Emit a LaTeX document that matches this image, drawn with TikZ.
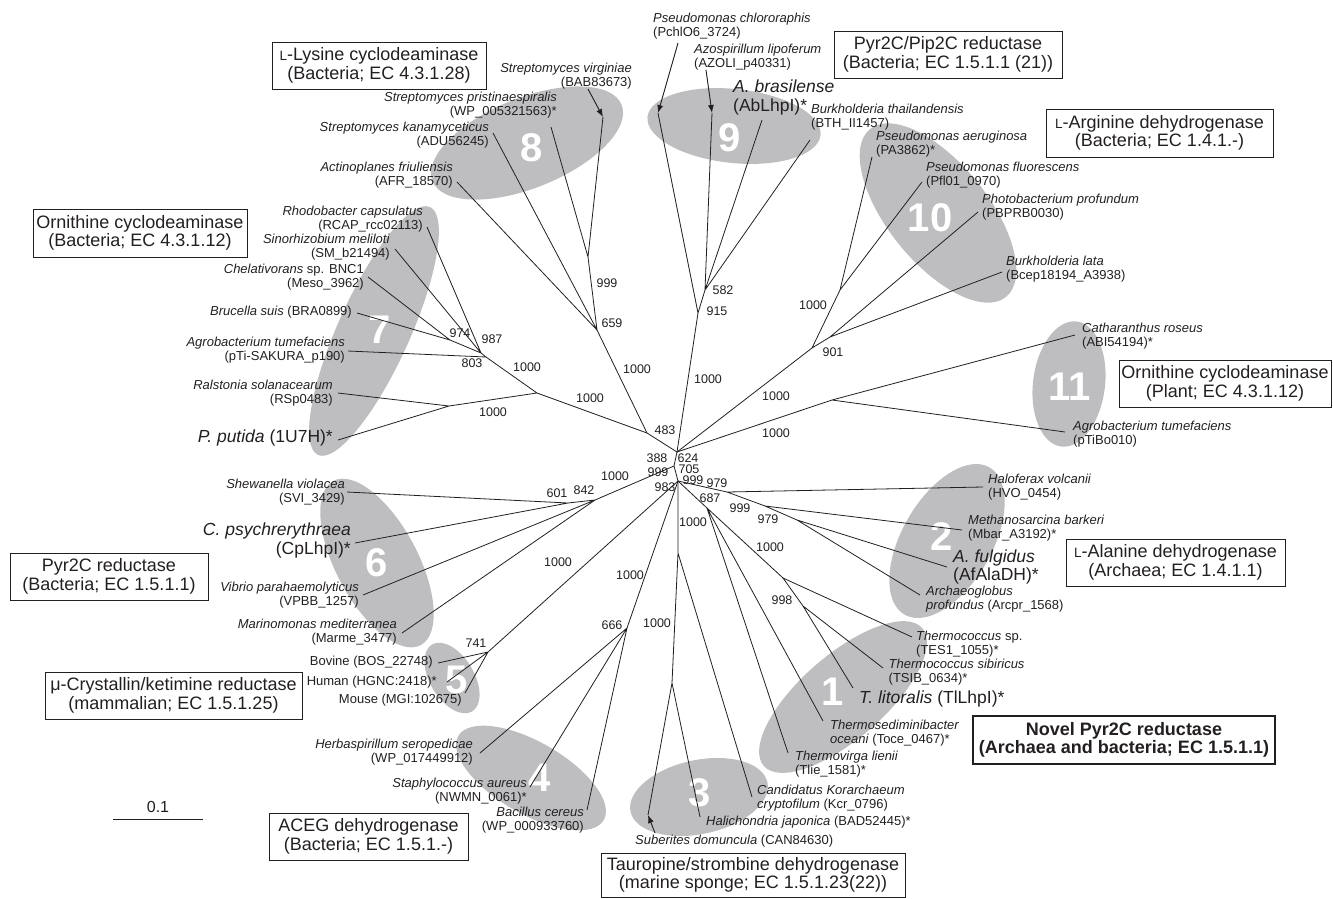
\documentclass[tikz,border=0pt]{standalone}
\usepackage{fontspec}
\setmainfont{Liberation Sans}
\usetikzlibrary{arrows.meta}
\definecolor{cladegray}{RGB}{190,190,193}
\definecolor{ink}{RGB}{35,31,32}
\tikzset{
  branch/.style={line width=0.8pt, draw=ink},
  pointer/.style={line width=0.9pt, draw=ink, fill=ink, -{Latex[length=8pt,width=6pt]}},
  taxon/.style={inner sep=0pt, text=ink, font=\fontsize{13}{14}\selectfont},
  taxonbig/.style={inner sep=0pt, text=ink, font=\fontsize{17.5}{18.5}\selectfont},
  boot/.style={inner sep=0pt, text=ink, font=\fontsize{12.5}{13}\selectfont},
  cladeno/.style={inner sep=0pt, text=white, font=\fontsize{40}{40}\selectfont\bfseries},
  enzbox/.style={draw=ink, line width=0.9pt, align=center, text=ink, inner sep=0pt,
    font=\fontsize{18}{18.5}\selectfont},
}
\newcommand{\sml}{\fontsize{13.5}{13.5}\selectfont L}

\begin{document}
\begin{tikzpicture}[x=1pt,y=-1pt]
    \useasboundingbox (0,0) rectangle (1333,898);

    \fill[cladegray, rotate around={65.7:(374,331)}] (374,331) ellipse [x radius=136, y radius=36];
    \fill[cladegray, rotate around={-62:(377,563)}] (377,563) ellipse [x radius=93, y radius=41];
    \fill[cladegray, rotate around={-59:(452,678)}] (452,678) ellipse [x radius=39, y radius=22];
    \fill[cladegray, rotate around={-30:(531,778)}] (531,778) ellipse [x radius=84, y radius=36];
    \fill[cladegray, rotate around={12:(699,797)}] (699,797) ellipse [x radius=70, y radius=37];
    \fill[cladegray, rotate around={41:(843,697)}] (843,697) ellipse [x radius=105, y radius=42];
    \fill[cladegray, rotate around={60:(947,541)}] (947,541) ellipse [x radius=85, y radius=45];
    \fill[cladegray, rotate around={-7:(1069,384)}] (1069,384) ellipse [x radius=36, y radius=63];
    \fill[cladegray, rotate around={-51:(938,213)}] (938,213) ellipse [x radius=108, y radius=50];
    \fill[cladegray, rotate around={-6:(734,126)}] (734,126) ellipse [x radius=87, y radius=37];
    \fill[cladegray, rotate around={22:(527,143)}] (527,143) ellipse [x radius=102, y radius=45];

    \node[cladeno] (k1) at (833,692) {1};
    \node[cladeno] (k2) at (942,537) {2};
    \node[cladeno] (k3) at (700,793) {3};
    \node[cladeno] (k4) at (540,778) {4};
    \node[cladeno] (k5) at (457,680) {5};
    \node[cladeno] (k6) at (377,563) {6};
    \node[cladeno] (k7) at (380,330) {7};
    \node[cladeno] (k8) at (532,148) {8};
    \node[cladeno] (k9) at (730,138) {9};
    \node[cladeno] (k10) at (930,218) {10};
    \node[cladeno] (k11) at (1070,387) {11};

    \coordinate (cA) at (677,452);
    \coordinate (cB) at (674,466);
    \coordinate (cC) at (678,481);
    \coordinate (n483) at (647,433);
    \coordinate (n659) at (597,330);
    \coordinate (n999) at (588,257);
    \coordinate (n7) at (537,393);
    \coordinate (n803) at (486,357);
    \coordinate (n987) at (481,353);
    \coordinate (nCB) at (450,340);
    \coordinate (nPR) at (449,406);
    \coordinate (n915) at (698,313);
    \coordinate (n582) at (705,290);
    \coordinate (n901) at (812,348);
    \coordinate (nPP) at (840,290);
    \coordinate (nLP) at (830,337);
    \coordinate (n11) at (832,400);
    \coordinate (n842) at (595,500);
    \coordinate (n601) at (568,503);
    \coordinate (n741) at (488,652);
    \coordinate (n666) at (627,628);
    \coordinate (n3K) at (678,553);
    \coordinate (n3) at (672,683);
    \coordinate (n687) at (707,508);
    \coordinate (t1) at (783,578);
    \coordinate (n998) at (803,606);
    \coordinate (n2a) at (727,492);
    \coordinate (n2b) at (765,506);
    \coordinate (n2c) at (797,520);

    \coordinate (tVir) at (603,117);
    \coordinate (tPri) at (551,127);
    \coordinate (tKan) at (493,133);
    \coordinate (tAct) at (457,182);
    \coordinate (tRca) at (427,227);
    \coordinate (tSin) at (395,249);
    \coordinate (tChe) at (368,277);
    \coordinate (tBru) at (357,313);
    \coordinate (tAgr) at (348,351);
    \coordinate (tRal) at (338,393);
    \coordinate (tPpu) at (338,440);
    \coordinate (tShe) at (347,492);
    \coordinate (tCps) at (355,543);
    \coordinate (tVib) at (363,595);
    \coordinate (tMar) at (402,633);
    \coordinate (tBov) at (438,663);
    \coordinate (tHum) at (447,682);
    \coordinate (tMou) at (465,693);
    \coordinate (tHer) at (480,753);
    \coordinate (tSta) at (530,787);
    \coordinate (tBac) at (587,810);
    \coordinate (tSub) at (648,815);
    \coordinate (tHal) at (700,817);
    \coordinate (tKor) at (752,797);
    \coordinate (tTvi) at (788,753);
    \coordinate (tTse) at (823,721);
    \coordinate (tTli) at (853,688);
    \coordinate (tTsi) at (883,668);
    \coordinate (tTsp) at (912,637);
    \coordinate (tArc) at (920,595);
    \coordinate (tAfu) at (947,567);
    \coordinate (tMba) at (962,530);
    \coordinate (tHvo) at (983,487);
    \coordinate (tAtu) at (1065,432);
    \coordinate (tCro) at (1075,335);
    \coordinate (tBla) at (1002,272);
    \coordinate (tPbp) at (978,212);
    \coordinate (tPfl) at (922,182);
    \coordinate (tPae) at (872,157);
    \coordinate (tBth) at (810,140);
    \coordinate (tAbr) at (762,120);
    \coordinate (tAzo) at (712,113);
    \coordinate (tPch) at (658,113);

    \draw[branch] (n999) -- (tVir) (n999) -- (tPri);
    \draw[branch] (n659) -- (n999) (n659) -- (tKan) (n659) -- (tAct);
    \draw[branch] (nCB) -- (tChe) (nCB) -- (tBru);
    \draw[branch] (n987) -- (tRca) (n987) -- (tSin) (n987) -- (nCB);
    \draw[branch] (n803) -- (n987) (n803) -- (tAgr);
    \draw[branch] (nPR) -- (tRal) (nPR) -- (tPpu);
    \draw[branch] (n7) -- (n803) (n7) -- (nPR) (n7) -- (n483);
    \draw[branch] (n483) -- (n659) (n483) -- (cA);
    \draw[branch] (n582) -- (tAzo) (n582) -- (tAbr) (n582) -- (tBth);
    \draw[branch] (n915) -- (n582) (n915) -- (tPch) (cA) -- (n915);
    \draw[branch] (nPP) -- (tPae) (nPP) -- (tPfl) (nLP) -- (tPbp) (nLP) -- (tBla);
    \draw[branch] (n901) -- (nPP) (n901) -- (nLP) (cA) -- (n901);
    \draw[branch] (n11) -- (tCro) (n11) -- (tAtu) (cA) -- (n11);
    \draw[branch] (cA) -- (cB) -- (cC);
    \draw[branch] (n601) -- (tShe) (n601) -- (tCps);
    \draw[branch] (n842) -- (n601) (n842) -- (tVib) (n842) -- (tMar) (cB) -- (n842);
    \draw[branch] (n741) -- (tBov) (n741) -- (tHum) (n741) -- (tMou) (cC) -- (n741);
    \draw[branch] (n666) -- (tHer) (n666) -- (tSta) (n666) -- (tBac) (cC) -- (n666);
    \draw[branch] (n3) -- (tSub) (n3) -- (tHal) (n3K) -- (n3) (n3K) -- (tKor) (cC) -- (n3K);
    \draw[branch] (n998) -- (tTsi) (n998) -- (tTli) (t1) -- (n998) (t1) -- (tTsp);
    \draw[branch] (n687) -- (t1) (n687) -- (tTse) (n687) -- (tTvi) (cC) -- (n687);
    \draw[branch] (n2c) -- (tAfu) (n2c) -- (tArc) (n2b) -- (n2c) (n2b) -- (tMba);
    \draw[branch] (n2a) -- (n2b) (n2a) -- (tHvo) (cC) -- (n2a);

    \coordinate (aVir) at (588,89);
    \coordinate (aAzo) at (706,70);
    \coordinate (aPch) at (678,43);
    \coordinate (aSub) at (655,833);
    \draw[pointer] (aVir) -- (tVir);
    \draw[pointer] (aAzo) -- (tAzo);
    \draw[pointer] (aPch) -- (tPch);
    \draw[pointer] (aSub) -- (tSub);

    \node[taxon, anchor=east, align=right] (lVir) at (632,75.7) {\textit{Streptomyces virginiae}\\(BAB83673)};
    \node[taxon, anchor=east, align=right] (lPri) at (557,105) {\textit{Streptomyces pristinaespiralis}\\(WP\_005321563)*};
    \node[taxon, anchor=east, align=right] (lKan) at (489,135.5) {\textit{Streptomyces kanamyceticus}\\(ADU56245)};
    \node[taxon, anchor=east, align=right] (lAct) at (453,175.3) {\textit{Actinoplanes friuliensis}\\(AFR\_18570)};
    \node[taxon, anchor=east, align=right] (lRca) at (423,219) {\textit{Rhodobacter capsulatus}\\(RCAP\_rcc02113)};
    \node[taxon, anchor=east, align=right] (lSin) at (390,247) {\textit{Sinorhizobium meliloti}\\(SM\_b21494)};
    \node[taxon, anchor=east, align=right] (lChe) at (364,276.7) {\textit{Chelativorans} sp. BNC1\\(Meso\_3962)};
    \node[taxon, anchor=east] (lBru) at (352,311.7) {\textit{Brucella suis} (BRA0899)};
    \node[taxon, anchor=east, align=right] (lAgr) at (345,349.7) {\textit{Agrobacterium tumefaciens}\\(pTi-SAKURA\_p190)};
    \node[taxon, anchor=east, align=right] (lRal) at (333,393.3) {\textit{Ralstonia solanacearum}\\(RSp0483)};
    \node[taxonbig, anchor=east] (lPpu) at (333,437.7) {\textit{P. putida} (1U7H)*};
    \node[taxon, anchor=east, align=right] (lShe) at (345,492) {\textit{Shewanella violacea}\\(SVI\_3429)};
    \node[taxonbig, anchor=east, align=right] (lCps) at (351,540.5) {\textit{C. psychrerythraea}\\(CpLhpI)*};
    \node[taxon, anchor=east, align=right] (lVib) at (359,594.7) {\textit{Vibrio parahaemolyticus}\\(VPBB\_1257)};
    \node[taxon, anchor=east, align=right] (lMar) at (397,631.7) {\textit{Marinomonas mediterranea}\\(Marme\_3477)};
    \node[taxon, anchor=east] (lBov) at (433,662.3) {Bovine (BOS\_22748)};
    \node[taxon, anchor=east] (lHum) at (437,682.3) {Human (HGNC:2418)*};
    \node[taxon, anchor=east] (lMou) at (462,700) {Mouse (MGI:102675)};
    \node[taxon, anchor=east, align=right] (lHer) at (473,751.7) {\textit{Herbaspirillum seropedicae}\\(WP\_017449912)};
    \node[taxon, anchor=east, align=right] (lSta) at (527,790.8) {\textit{Staphylococcus aureus}\\(NWMN\_0061)*};
    \node[taxon, anchor=east, align=right] (lBac) at (584,819.7) {\textit{Bacillus cereus}\\(WP\_000933760)};
    \node[taxon, anchor=west] (lSub) at (635,840.7) {\textit{Suberites domuncula} (CAN84630)};
    \node[taxon, anchor=west] (lHal) at (706,822.3) {\textit{Halichondria japonica} (BAD52445)*};
    \node[taxon, anchor=west, align=left] (lKor) at (757,798.3) {\textit{Candidatus Korarchaeum}\\\textit{cryptofilum} (Kcr\_0796)};
    \node[taxon, anchor=west, align=left] (lTvi) at (795,764.5) {\textit{Thermovirga lienii}\\(Tlie\_1581)*};
    \node[taxon, anchor=west, align=left] (lTse) at (830,732.7) {\textit{Thermosediminibacter}\\\textit{oceani} (Toce\_0467)*};
    \node[taxonbig, anchor=west] (lTli) at (859,699.3) {\textit{T. litoralis} (TlLhpI)*};
    \node[taxon, anchor=west, align=left] (lTsi) at (888.5,672.4) {\textit{Thermococcus sibiricus}\\(TSIB\_0634)*};
    \node[taxon, anchor=west, align=left] (lTsp) at (916,644.3) {\textit{Thermococcus} sp.\\(TES1\_1055)*};
    \node[taxon, anchor=west, align=left] (lArc) at (926,599.5) {\textit{Archaeoglobus}\\\textit{profundus} (Arcpr\_1568)};
    \node[taxonbig, anchor=west, align=left] (lAfu) at (953,566.8) {\textit{A. fulgidus}\\(AfAlaDH)*};
    \node[taxon, anchor=west, align=left] (lMba) at (968,528.3) {\textit{Methanosarcina barkeri}\\(Mbar\_A3192)*};
    \node[taxon, anchor=west, align=left] (lHvo) at (988,487.5) {\textit{Haloferax volcanii}\\(HVO\_0454)};
    \node[taxon, anchor=west, align=left] (lAtu) at (1073,433.7) {\textit{Agrobacterium tumefaciens}\\(pTiBo010)};
    \node[taxon, anchor=west, align=left] (lCro) at (1082,336.3) {\textit{Catharanthus roseus}\\(ABI54194)*};
    \node[taxon, anchor=west, align=left] (lBla) at (1006,268.8) {\textit{Burkholderia lata}\\(Bcep18194\_A3938)};
    \node[taxon, anchor=west, align=left] (lPbp) at (982,207.5) {\textit{Photobacterium profundum}\\(PBPRB0030)};
    \node[taxon, anchor=west, align=left] (lPfl) at (926,175.3) {\textit{Pseudomonas fluorescens}\\(Pfl01\_0970)};
    \node[taxon, anchor=west, align=left] (lPae) at (876,144) {\textit{Pseudomonas aeruginosa}\\(PA3862)*};
    \node[taxon, anchor=west, align=left] (lBth) at (811,116.7) {\textit{Burkholderia thailandensis}\\(BTH\_II1457)};
    \node[taxonbig, anchor=west, align=left] (lAbr) at (733,97.3) {\textit{A. brasilense}\\(AbLhpI)*};
    \node[taxon, anchor=west, align=left] (lAzo) at (694,56.7) {\textit{Azospirillum lipoferum}\\(AZOLI\_p40331)};
    \node[taxon, anchor=west, align=left] (lPch) at (653,26.3) {\textit{Pseudomonas chlororaphis}\\(PchlO6\_3724)};

    \node[boot] (s483) at (665,430) {483};
    \node[boot] (s388) at (657,458) {388};
    \node[boot] (s624) at (688,458) {624};
    \node[boot] (s999a) at (658,472) {999};
    \node[boot] (s705) at (689,469) {705};
    \node[boot] (s983) at (665,487) {983};
    \node[boot] (s999b) at (693,480) {999};
    \node[boot] (s979a) at (717,483) {979};
    \node[boot] (s687) at (710,498) {687};
    \node[boot] (s999c) at (740,508) {999};
    \node[boot] (s979b) at (768,519) {979};
    \node[boot] (s1000a) at (770,547) {1000};
    \node[boot] (s998) at (782,600) {998};
    \node[boot] (s1000b) at (693,522) {1000};
    \node[boot] (s1000c) at (657,623) {1000};
    \node[boot] (s1000d) at (630,575) {1000};
    \node[boot] (s666) at (612,625) {666};
    \node[boot] (s1000e) at (558,562) {1000};
    \node[boot] (s741) at (476,643) {741};
    \node[boot] (s1000f) at (615,476) {1000};
    \node[boot] (s842) at (584,490) {842};
    \node[boot] (s601) at (557,493) {601};
    \node[boot] (s1000g) at (590,398) {1000};
    \node[boot] (s1000h) at (527,367) {1000};
    \node[boot] (s1000i) at (493,412) {1000};
    \node[boot] (s803) at (472,363) {803};
    \node[boot] (s974) at (460,333) {974};
    \node[boot] (s987) at (492,339) {987};
    \node[boot] (s1000j) at (637,369) {1000};
    \node[boot] (s659) at (612,323) {659};
    \node[boot] (s999d) at (607,283) {999};
    \node[boot] (s1000k) at (708,379) {1000};
    \node[boot] (s915) at (717,311) {915};
    \node[boot] (s582) at (723,290) {582};
    \node[boot] (s1000l) at (776,396) {1000};
    \node[boot] (s901) at (833,352) {901};
    \node[boot] (s1000m) at (813,305) {1000};
    \node[boot] (s1000n) at (776,433) {1000};

    \node[enzbox, minimum width=214pt, minimum height=47pt] (bLys) at (379,65.5) {{\sml}-Lysine cyclodeaminase\\(Bacteria; EC 4.3.1.28)};
    \node[enzbox, minimum width=214pt, minimum height=48pt] (bOcdB) at (140,233) {Ornithine cyclodeaminase\\(Bacteria; EC 4.3.1.12)};
    \node[enzbox, minimum width=228pt, minimum height=47pt] (bPip) at (948,54.5) {Pyr2C/Pip2C reductase\\(Bacteria; EC 1.5.1.1 (21))};
    \node[enzbox, minimum width=227pt, minimum height=48pt] (bArg) at (1159.5,133) {{\sml}-Arginine dehydrogenase\\(Bacteria; EC 1.4.1.-)};
    \node[enzbox, minimum width=212pt, minimum height=47pt] (bOcdP) at (1225,383.5) {Ornithine cyclodeaminase\\(Plant; EC 4.3.1.12)};
    \node[enzbox, minimum width=219pt, minimum height=47pt] (bAla) at (1175.5,562.5) {{\sml}-Alanine dehydrogenase\\(Archaea; EC 1.4.1.1)};
    \node[enzbox, line width=2pt, font=\fontsize{18}{18.5}\selectfont\bfseries, minimum width=302pt, minimum height=48pt] (bNovel) at (1124,740) {Novel Pyr2C reductase\\(Archaea and bacteria; EC 1.5.1.1)};
    \node[enzbox, minimum width=304pt, minimum height=44pt] (bTau) at (753,875) {Tauropine/strombine dehydrogenase\\(marine sponge; EC 1.5.1.23(22))};
    \node[enzbox, minimum width=199pt, minimum height=47pt] (bAceg) at (368.5,836.5) {ACEG dehydrogenase\\(Bacteria; EC 1.5.1.-)};
    \node[enzbox, minimum width=257pt, minimum height=47pt] (bCry) at (173.5,695.5) {μ-Crystallin/ketimine reductase\\(mammalian; EC 1.5.1.25)};
    \node[enzbox, minimum width=198pt, minimum height=47pt] (bPyr) at (109,576.5) {Pyr2C reductase\\(Bacteria; EC 1.5.1.1)};

    \coordinate (sbL) at (113,819);
    \coordinate (sbR) at (203,819);
    \draw[branch] (sbL) -- (sbR);
    \node[inner sep=0pt, text=ink, font=\fontsize{16}{16}\selectfont, above=6pt] (sbText) at (158,819) {0.1};
\end{tikzpicture}
\end{document}
